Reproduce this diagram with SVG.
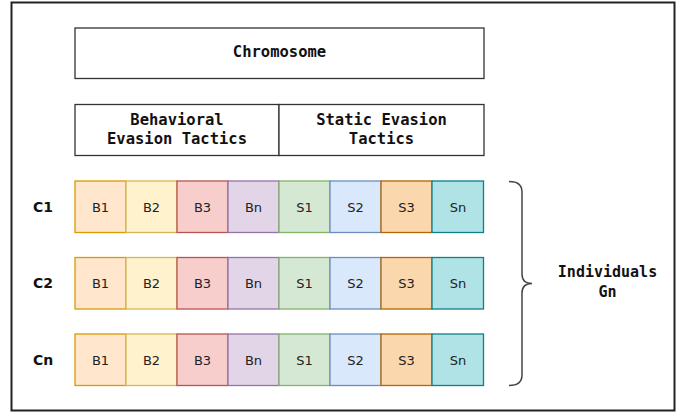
<svg xmlns="http://www.w3.org/2000/svg" width="685" height="413" viewBox="0 0 685 413">
<style>
.hdr{font-family:"DejaVu Sans Mono","Liberation Mono",monospace;font-weight:bold;font-size:15.5px;fill:#111;text-anchor:middle;dominant-baseline:central}
.box{fill:#fff;stroke:#333;stroke-width:1.3}
.cell{stroke-width:1.3}
.lbl{font-family:"DejaVu Sans",Verdana,sans-serif;font-size:13px;fill:#222;text-anchor:middle;dominant-baseline:central}
.row{font-family:"DejaVu Sans",Tahoma,sans-serif;font-weight:bold;font-size:14px;fill:#111;text-anchor:middle;dominant-baseline:central}
.b1{fill:#ffe6cc;stroke:#d79b00}.b2{fill:#fff2cc;stroke:#d6b656}.b3{fill:#f8cecc;stroke:#b85450}.bn{fill:#e1d5e7;stroke:#9673a6}
.s1{fill:#d5e8d4;stroke:#82b366}.s2{fill:#dae8fc;stroke:#6c8ebf}.s3{fill:#fad7ac;stroke:#b46504}.sn{fill:#b0e3e6;stroke:#0e8088}
</style>
<rect x="11.5" y="2.5" width="663" height="408" fill="#fff" stroke="#222" stroke-width="2"/>
<g id="chromosome"><rect class="box" x="75" y="28" width="409" height="50.5"/><text class="hdr" x="279.5" y="51.5">Chromosome</text></g>
<g id="behavioral"><rect class="box" x="75" y="104.5" width="204" height="51"/><text class="hdr" x="177" y="119.5">Behavioral</text><text class="hdr" x="177" y="138.5">Evasion Tactics</text></g>
<g id="static"><rect class="box" x="279" y="104.5" width="205" height="51"/><text class="hdr" x="381.5" y="119.5">Static Evasion</text><text class="hdr" x="381.5" y="138.5">Tactics</text></g>
<defs>
<g id="rowcells">
<rect class="cell b1" x="75" y="0" width="51" height="51.5"/><text class="lbl" x="100.5" y="26">B1</text>
<rect class="cell b2" x="126" y="0" width="51" height="51.5"/><text class="lbl" x="151.5" y="26">B2</text>
<rect class="cell b3" x="177" y="0" width="51" height="51.5"/><text class="lbl" x="202.5" y="26">B3</text>
<rect class="cell bn" x="228" y="0" width="51" height="51.5"/><text class="lbl" x="253.5" y="26">Bn</text>
<rect class="cell s1" x="279" y="0" width="51" height="51.5"/><text class="lbl" x="304.5" y="26">S1</text>
<rect class="cell s2" x="330" y="0" width="51" height="51.5"/><text class="lbl" x="355.5" y="26">S2</text>
<rect class="cell s3" x="381" y="0" width="51" height="51.5"/><text class="lbl" x="406.5" y="26">S3</text>
<rect class="cell sn" x="432" y="0" width="51.5" height="51.5"/><text class="lbl" x="458" y="26">Sn</text>
</g>
</defs>
<g id="c1"><text class="row" x="43" y="207">C1</text><use href="#rowcells" x="0" y="181"/></g>
<g id="c2"><text class="row" x="43" y="283">C2</text><use href="#rowcells" x="0" y="257.5"/></g>
<g id="cn"><text class="row" x="43" y="360">Cn</text><use href="#rowcells" x="0" y="334"/></g>
<g id="connectors"><path d="M509,181.5 Q522,181.5 522,192 L522,274 Q522,283.5 532,283.5 Q522,283.5 522,293 L522,375 Q522,385.5 509,385.5" fill="none" stroke="#444" stroke-width="1.5"/></g>
<g id="individuals"><text class="hdr" x="607.5" y="272" style="font-size:15px">Individuals</text><text class="hdr" x="607.5" y="292" style="font-size:15px">Gn</text></g>
</svg>
